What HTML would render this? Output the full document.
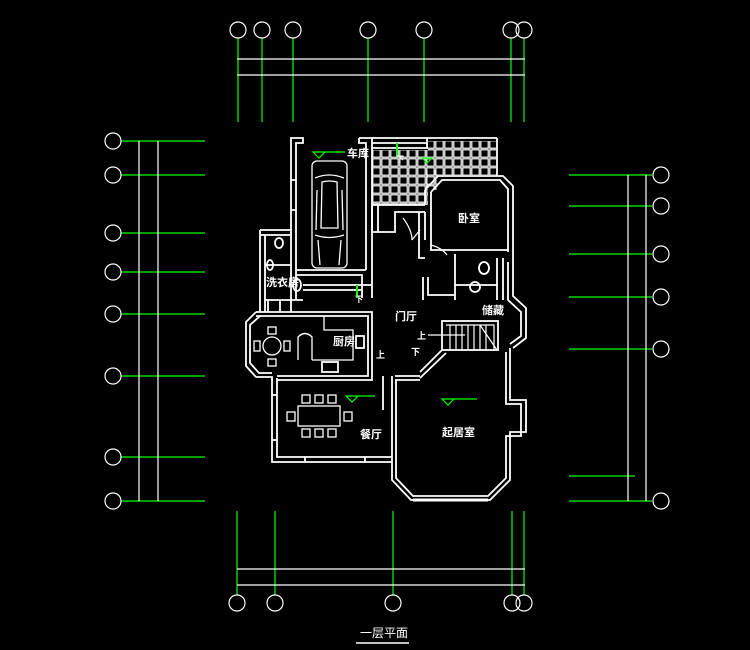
<!DOCTYPE html>
<html><head><meta charset="utf-8"><style>
html,body{margin:0;padding:0;background:#000;width:750px;height:650px;overflow:hidden}
svg{display:block}
text{font-family:"Liberation Sans","Noto Sans CJK SC",sans-serif;fill:#fff}
</style></head><body>
<svg width="750" height="650" viewBox="0 0 750 650" xmlns="http://www.w3.org/2000/svg">
<defs>
<pattern id="tile" x="372" y="140" width="9" height="9" patternUnits="userSpaceOnUse">
<rect x="0.8" y="0.8" width="7.4" height="7.4" fill="none" stroke="#fff" stroke-width="1.2"/>
</pattern>
</defs>
<g fill="none" stroke-width="1.2">
<!-- TOP AXES -->
<g stroke="#0f0">
<line x1="238" y1="38" x2="238" y2="122"/><line x1="262" y1="38" x2="262" y2="122"/>
<line x1="293" y1="38" x2="293" y2="122"/><line x1="368" y1="38" x2="368" y2="122"/>
<line x1="424" y1="38" x2="424" y2="122"/><line x1="511" y1="38" x2="511" y2="122"/>
<line x1="524" y1="38" x2="524" y2="122"/>
</g>
<g stroke="#fff">
<line x1="237" y1="59" x2="525" y2="59"/><line x1="237" y1="75" x2="525" y2="75"/>
<circle cx="238" cy="30" r="8"/><circle cx="262" cy="30" r="8"/><circle cx="293" cy="30" r="8"/>
<circle cx="368" cy="30" r="8"/><circle cx="424" cy="30" r="8"/><circle cx="511" cy="30" r="8"/><circle cx="524" cy="30" r="8"/>
</g>
<!-- BOTTOM AXES -->
<g stroke="#0f0">
<line x1="237" y1="511" x2="237" y2="595"/><line x1="275" y1="511" x2="275" y2="595"/>
<line x1="393" y1="511" x2="393" y2="595"/><line x1="512" y1="511" x2="512" y2="595"/>
<line x1="524" y1="511" x2="524" y2="595"/>
</g>
<g stroke="#fff">
<line x1="237" y1="569" x2="525" y2="569"/><line x1="237" y1="585" x2="525" y2="585"/>
<circle cx="237" cy="603" r="8"/><circle cx="275" cy="603" r="8"/><circle cx="393" cy="603" r="8"/>
<circle cx="512" cy="603" r="8"/><circle cx="524" cy="603" r="8"/>
</g>
<!-- LEFT AXES -->
<g stroke="#0f0">
<line x1="121" y1="141" x2="205" y2="141"/><line x1="121" y1="175" x2="205" y2="175"/>
<line x1="121" y1="233" x2="205" y2="233"/><line x1="121" y1="272" x2="205" y2="272"/>
<line x1="121" y1="314" x2="205" y2="314"/><line x1="121" y1="376" x2="205" y2="376"/>
<line x1="121" y1="457" x2="205" y2="457"/><line x1="121" y1="501" x2="205" y2="501"/>
</g>
<g stroke="#fff">
<line x1="139" y1="141" x2="139" y2="501"/><line x1="158" y1="141" x2="158" y2="501"/>
<circle cx="113" cy="141" r="8"/><circle cx="113" cy="175" r="8"/><circle cx="113" cy="233" r="8"/>
<circle cx="113" cy="272" r="8"/><circle cx="113" cy="314" r="8"/><circle cx="113" cy="376" r="8"/>
<circle cx="113" cy="457" r="8"/><circle cx="113" cy="501" r="8"/>
</g>
<!-- RIGHT AXES -->
<g stroke="#0f0">
<line x1="569" y1="175" x2="652" y2="175"/><line x1="569" y1="206" x2="652" y2="206"/>
<line x1="569" y1="254" x2="652" y2="254"/><line x1="569" y1="297" x2="652" y2="297"/>
<line x1="569" y1="349" x2="652" y2="349"/><line x1="569" y1="476" x2="635" y2="476"/>
<line x1="569" y1="501" x2="652" y2="501"/>
</g>
<g stroke="#fff">
<line x1="628" y1="175" x2="628" y2="501"/><line x1="646" y1="175" x2="646" y2="501"/>
<circle cx="661" cy="175" r="8"/><circle cx="661" cy="206" r="8"/><circle cx="661" cy="254" r="8"/>
<circle cx="661" cy="297" r="8"/><circle cx="661" cy="349" r="8"/><circle cx="661" cy="501" r="8"/>
</g>

<!-- FLOOR PLAN -->
<g stroke="#fff" stroke-width="1.8">
<rect x="372" y="150" width="56" height="55" fill="url(#tile)" stroke="none"/>
<rect x="428" y="141" width="68" height="34" fill="url(#tile)" stroke="none"/>
<rect x="426" y="170" width="12" height="20" fill="url(#tile)" stroke="none"/>
<line x1="372" y1="138" x2="497" y2="138"/><line x1="372" y1="143" x2="427" y2="143"/>
<line x1="372" y1="148" x2="428" y2="148"/><line x1="427" y1="138" x2="427" y2="148"/>
<line x1="497" y1="138" x2="497" y2="176"/><line x1="372" y1="205" x2="425" y2="205"/>
<!-- garage -->
<path d="M291,300 V138 H303 V143 H296 V300"/>
<path d="M359,138 H372 V298 M359,138 V143 H366 V270"/>
<path d="M296,270 H366 M296,275 H362 V298"/>
<path d="M291,180 H296 M291,210 H296"/>
<g stroke-width="1.3">
<rect x="312" y="161" width="35" height="107" rx="5"/>
<path d="M315,178 Q329,172 344,178 M317,190 L316,230 M342,190 L343,230 M315,235 Q329,240 344,235 M318,240 L320,265 M341,240 L339,265 M322,182 Q329,180 337,182 L338,228 L321,228 Z"/>
</g>
<path d="M372,205 V232 H378 V205 M372,232 H378"/>
<path d="M378,232 H395 V212 H425"/>
<!-- bedroom -->
<path d="M425,190 L438,176 L503,176 L513,186 L513,258 M431,192 L442,180 L500,180 L508,189 L508,252"/>
<path d="M425,190 V205 M431,192 V250 H508"/>
<path d="M425,212 V240 M419,212 V258 H425"/>
<path d="M403,218 Q412,230 412,240 M420,230 L412,240" stroke-width="1.2"/>
<path d="M431,245 Q442,248 447,255" stroke-width="1.2"/>
<path d="M455,254 V300 M455,285 H497 M497,258 V300 M503,258 V300"/>
<ellipse cx="484" cy="268" rx="5" ry="6"/><circle cx="475" cy="287" r="5"/>
<path d="M423,277 V300 M428,277 V295 H455"/>
<path d="M513,258 V296 L526,308 L526,338 L513,348 M508,262 V300 L521,312 L521,336 L510,344"/>
<!-- stairs -->
<rect x="442" y="321" width="56" height="29"/>
<path d="M446,325 H494 V350 M450,325 V350 M456,325 V350 M462,325 V350 M468,325 V350 M474,325 V350 M480,325 V350 M486,325 V350 M480,325 L497,350" stroke-width="1.2"/>
<path d="M428,335 H465" stroke-width="1.2"/>
<path d="M442,350 L420,372 M446,353 L420,378"/>
<!-- living -->
<path d="M395,376 H420 M395,380 H420"/>
<path d="M392,376 V480 L411,500 L490,500 L510,480 V432 H526 V400 H510 V348 M396,380 V478 L413,496 L488,496 L506,478 V436 H521 V404 H506 V352"/>
<path d="M413,500 H488" stroke-width="3"/>
<!-- dining -->
<path d="M272,378 V462 H392 M277,378 V457 H392"/>
<path d="M272,395 H277 M272,440 H277 M305,457 V462 M365,457 V462"/>
<path d="M383,376 V410"/>
<!-- kitchen -->
<path d="M256,312 H372 V380 H277 M256,316 H368 V376 H277"/>
<path d="M324,316 V330 H353 V360 H312" stroke-width="1.3"/>
<path d="M312,360 V337 Q305,330 298,337 V360" stroke-width="1.3"/>
<rect x="322" y="362" width="16" height="10"/>
<rect x="356" y="336" width="8" height="12"/>
<path d="M256,312 L246,322 V366 L256,377 H272 V380 M260,316 L250,325 V363 L259,373 H272"/>
<g stroke-width="1.3">
<circle cx="272" cy="346" r="9"/><rect x="268" y="327" width="8" height="7"/><rect x="268" y="359" width="8" height="7"/>
<rect x="254" y="341" width="6" height="10"/><rect x="284" y="341" width="6" height="10"/>
<rect x="298" y="406" width="42" height="20"/>
<rect x="302" y="395" width="8" height="8"/><rect x="315" y="395" width="8" height="8"/><rect x="328" y="395" width="8" height="8"/>
<rect x="302" y="429" width="8" height="8"/><rect x="315" y="429" width="8" height="8"/><rect x="328" y="429" width="8" height="8"/>
<rect x="287" y="412" width="8" height="9"/><rect x="344" y="412" width="8" height="9"/>
</g>
<!-- laundry -->
<path d="M260,230 H291 M260,235 H291 M260,230 V312 M265,235 V312"/>
<path d="M265,265 H291 M265,300 H303 M291,300 V312"/>
<ellipse cx="279" cy="243" rx="4" ry="5"/><ellipse cx="270" cy="265" rx="3" ry="5"/>
<ellipse cx="297" cy="285" rx="4" ry="6"/>
<path d="M268,300 V312 M280,300 V312"/>
<path d="M303,285 H372 M303,290 H362"/>
</g>
<g stroke="#0f0" stroke-width="1.2">
<path d="M313,152 L319,158 L325,152 Z M313,152 H345"/>
<path d="M422,158 L427,163 L432,158 Z"/>
<path d="M346,396 L352,402 L358,396 Z M346,396 H375"/>
<path d="M442,399 L448,405 L454,399 Z M442,399 H477"/>
<line x1="397" y1="143" x2="397" y2="157" stroke-width="2"/>
<line x1="357" y1="285" x2="357" y2="298" stroke-width="2"/>
</g>
</g>
<g font-size="11" font-weight="bold">
<text x="347" y="157">车库</text>
<text x="458" y="222">卧室</text>
<text x="266" y="286">洗衣房</text>
<text x="482" y="314">储藏</text>
<text x="395" y="320">门厅</text>
<text x="333" y="345">厨房</text>
<text x="360" y="438">餐厅</text>
<text x="442" y="436">起居室</text>
<text x="417" y="339" font-size="9">上</text>
<text x="411" y="355" font-size="9">下</text>
<text x="376" y="358" font-size="9">上</text>
<text x="396" y="162" font-size="8">下</text>
<text x="355" y="302" font-size="8">下</text>
<text x="360" y="637" font-size="12" font-weight="normal">一层平面</text>
</g>
<line x1="356" y1="643" x2="409" y2="643" stroke="#fff" stroke-width="1.5"/>
</svg>
</body></html>
